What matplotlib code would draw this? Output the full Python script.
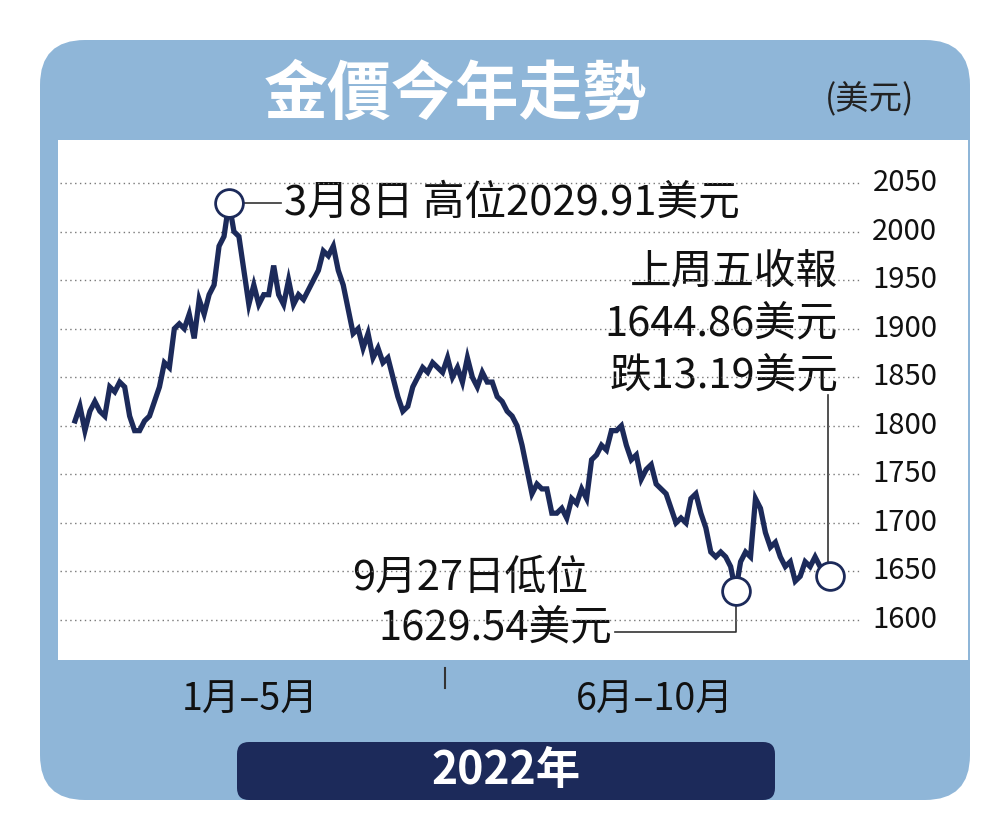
import matplotlib.pyplot as plt
import matplotlib.transforms as mtransforms
from matplotlib.patches import FancyBboxPatch, Rectangle
import numpy as np

plt.rcParams['font.family'] = ['Noto Sans CJK TC', 'DejaVu Sans']

# gold price (USD), Jan - Oct 2022
prices = [1805, 1820, 1795, 1815, 1825, 1815, 1810, 1840, 1835, 1845, 1840, 1810, 1795, 1795,
          1805, 1810, 1825, 1840, 1865, 1860, 1900, 1905, 1900, 1915, 1890, 1930, 1915, 1935,
          1945, 1985, 1995, 2029.91, 2000, 1995, 1960, 1925, 1945, 1925, 1935, 1935, 1965, 1935,
          1925, 1950, 1925, 1935, 1930, 1940, 1950, 1960, 1980, 1975, 1985, 1960, 1945, 1920,
          1895, 1900, 1880, 1895, 1870, 1880, 1865, 1870, 1850, 1830, 1815, 1820, 1840, 1850,
          1860, 1855, 1865, 1860, 1855, 1870, 1850, 1860, 1845, 1870, 1850, 1840, 1855, 1845,
          1845, 1830, 1825, 1815, 1810, 1800, 1780, 1755, 1730, 1740, 1735, 1735, 1710, 1710,
          1715, 1705, 1725, 1720, 1735, 1725, 1765, 1770, 1780, 1775, 1795, 1795, 1800, 1780,
          1765, 1770, 1745, 1755, 1760, 1740, 1735, 1730, 1715, 1700, 1705, 1700, 1725, 1730,
          1710, 1695, 1670, 1665, 1670, 1665, 1655, 1629.54, 1660, 1670, 1665, 1725, 1715, 1690,
          1675, 1680, 1665, 1655, 1660, 1640, 1645, 1660, 1655, 1665, 1655, 1650, 1644.86]
yticks = [1600, 1650, 1700, 1750, 1800, 1850, 1900, 1950, 2000, 2050]
title = '金價今年走勢'
unit = '(美元)'
period_labels = ['1月–5月', '6月–10月']
year_label = '2022年'
note_high = '3月8日 高位2029.91美元'
note_low = ['9月27日低位', '1629.54美元']
note_last = ['上周五收報', '1644.86美元', '跌13.19美元']

navy = '#1c2a5a'
light = '#8fb6d8'

fig = plt.figure(figsize=(10, 8.4), dpi=100)
ov = fig.add_axes([0, 0, 1, 1])
ov.set_xlim(0, 1000)
ov.set_ylim(840, 0)
ov.axis('off')

ov.add_patch(FancyBboxPatch((40, 40), 930, 760, boxstyle='round,pad=0,rounding_size=45',
                            fc=light, ec='none'))
ov.add_patch(Rectangle((58, 140), 910, 520, fc='white', ec='none'))
ov.text(455, 95, title, color='white', fontsize=46, fontweight='bold', ha='center', va='center')
ov.text(870, 100, unit, color='#222', fontsize=24, ha='center', va='center')
ov.text(250, 700, period_labels[0], color='#111', fontsize=27, ha='center', va='center')
ov.text(655, 700, period_labels[1], color='#111', fontsize=27, ha='center', va='center')
ov.plot([445, 445], [668, 688], color='#333', lw=1.5)
ov.add_patch(FancyBboxPatch((237, 742), 538, 58, boxstyle='round,pad=0,rounding_size=12',
                            fc=navy, ec='none'))
ov.text(506, 771, year_label, color='white', fontsize=32, fontweight='bold',
        ha='center', va='center')

n = len(prices)
x = np.arange(n)
ax = fig.add_axes([60 / 1000, 180 / 840, 800 / 1000, 520 / 840])
scale = 755 / (n - 1)
ax.set_xlim(-15 / scale, (n - 1) + 30 / scale)
ax.set_ylim(1558.8, 2094.3)
ax.axis('off')
for t in yticks:
    ax.axhline(t, color='#777', lw=1, ls=(0, (1, 2.5)), zorder=1)
    ax.text(1.056, t, str(t), transform=mtransforms.blended_transform_factory(ax.transAxes, ax.transData),
            fontsize=21, ha='center', va='center', color='#111')
ax.plot(x, prices, color=navy, lw=3.8, zorder=3, solid_joinstyle='miter')

ihi = int(np.argmax(prices))
ilo = int(np.argmin(prices))
ilast = n - 1
for i in (ihi, ilo, ilast):
    ax.plot(x[i], prices[i], 'o', ms=20, mfc='white', mec=navy, mew=2, zorder=5, clip_on=False)


def px(i):
    d = ax.transData.transform((x[i], prices[i]))
    return ov.transData.inverted().transform(d)


fig.canvas.draw()
hx, hy = px(ihi)
ov.plot([hx + 12, hx + 52], [hy, hy], color='#333', lw=1.2)
ov.text(hx + 55, hy, note_high, fontsize=30, ha='left', va='center', color='#111')

lx, ly = px(ilo)
ov.plot([lx, lx, 615], [ly + 12, 632, 632], color='#333', lw=1.2)
ov.text(470, 578, note_low[0], fontsize=30, ha='center', va='center', color='#111')
ov.text(612, 628, note_low[1], fontsize=30, ha='right', va='center', color='#111')

ex, ey = px(ilast)
ov.plot([ex - 2, ex - 2], [ey - 12, 395], color='#333', lw=1.2)
for k, s in enumerate(note_last):
    ov.text(838, 272 + k * 52, s, fontsize=30, ha='right', va='center', color='#111')

fig.savefig('out.png', dpi=100)
